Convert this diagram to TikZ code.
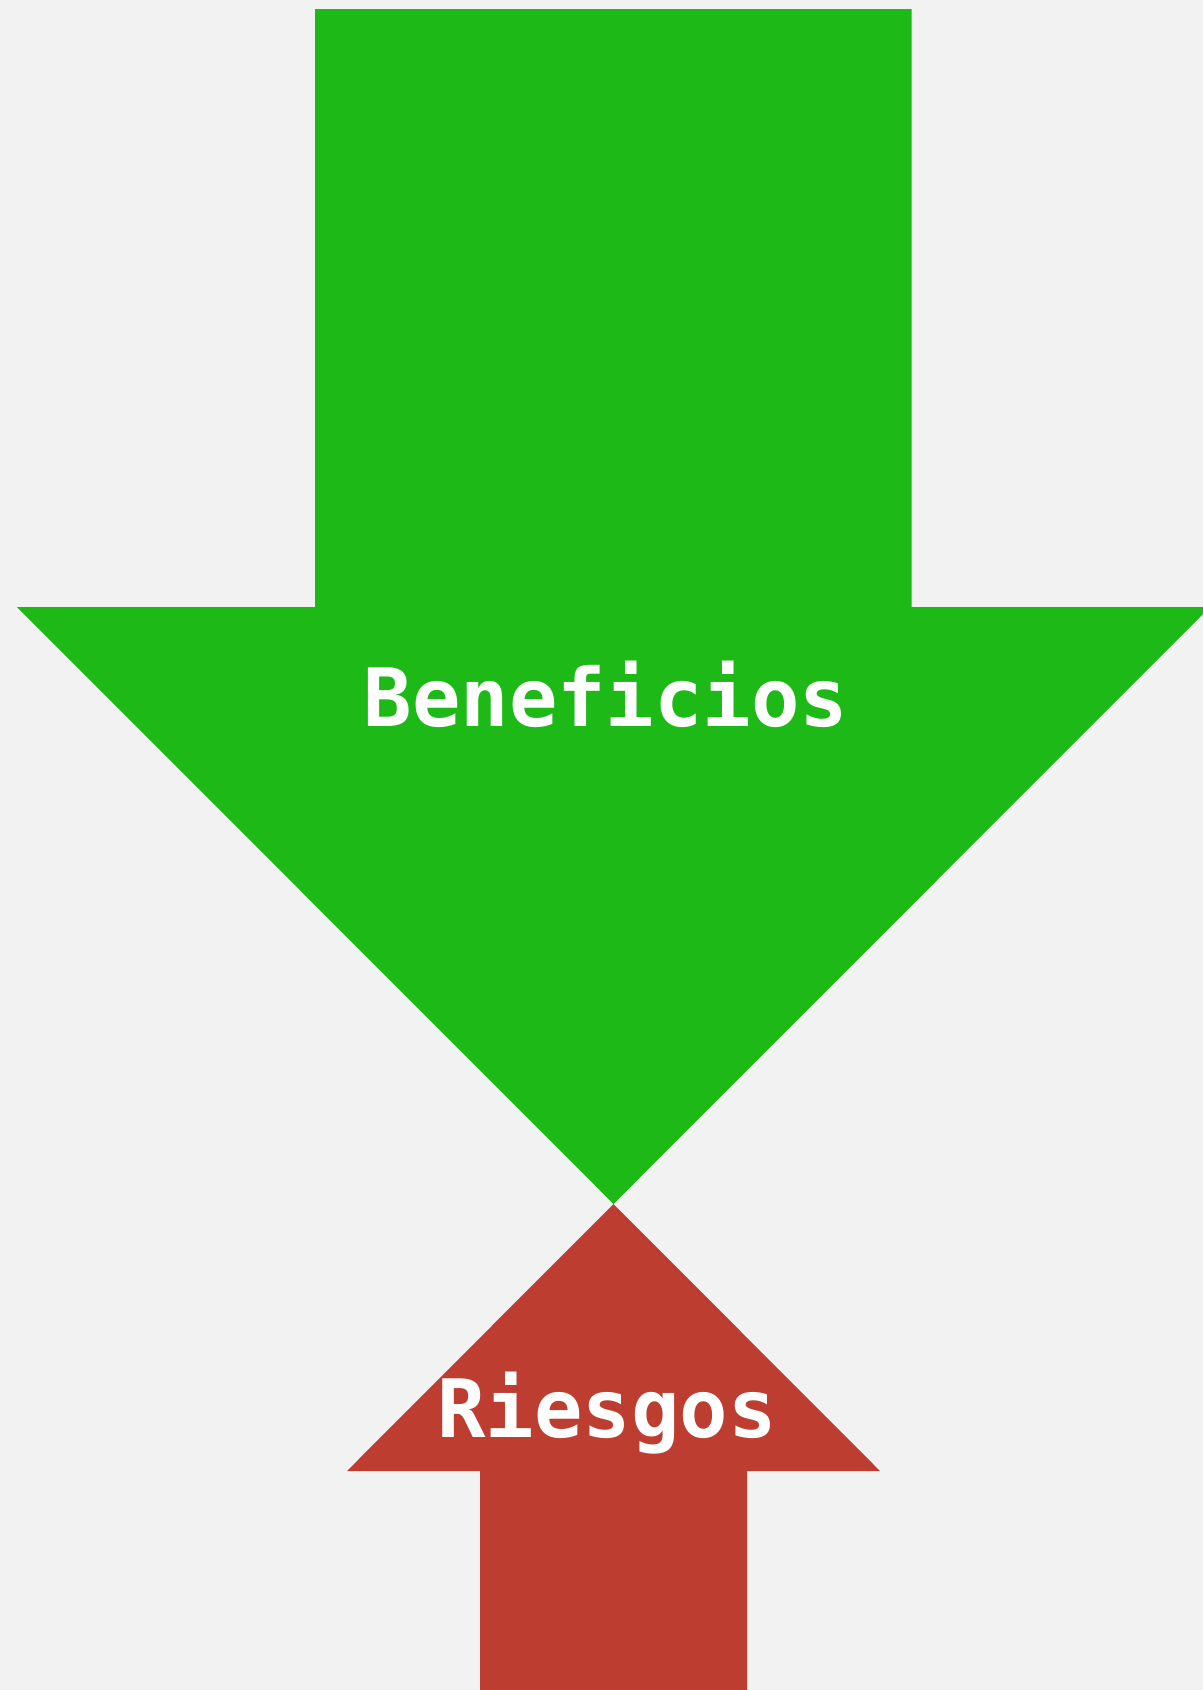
\documentclass[tikz,border=0pt]{standalone}
\usepackage{fontspec}
\usepackage{tikz}
\newfontfamily\arrowfont{DejaVu Sans Mono}
\definecolor{bgray}{HTML}{F2F2F2}
\definecolor{bgreen}{HTML}{1DBA17}
\definecolor{bred}{HTML}{BD3E31}
\tikzset{
  arrowlabel/.style={anchor=base, text=white, inner sep=0pt,
    font=\arrowfont\bfseries\fontsize{22.9}{28}\selectfont}
}

\begin{document}
\begin{tikzpicture}[x=0.01cm, y=-0.01cm]
    \fill[bgray] (0,0) rectangle (1203,1690);
    \useasboundingbox (0,0) rectangle (1203,1690);
    % benefits arrow, pointing down
    \fill[bgreen] (315,9) -- (911.5,9) -- (911.5,607) -- (1210,607)
        -- (613.5,1204) -- (17,607) -- (315,607) -- cycle;
    % risks arrow, pointing up
    \fill[bred] (613.5,1204) -- (880,1471) -- (747,1471) -- (747,1690)
        -- (480,1690) -- (480,1471) -- (347,1471) -- cycle;
    \node[arrowlabel] (beneficios) at (606,726) {Beneficios};
    \node[arrowlabel] (riesgos) at (607,1437) {Riesgos};
\end{tikzpicture}
\end{document}
